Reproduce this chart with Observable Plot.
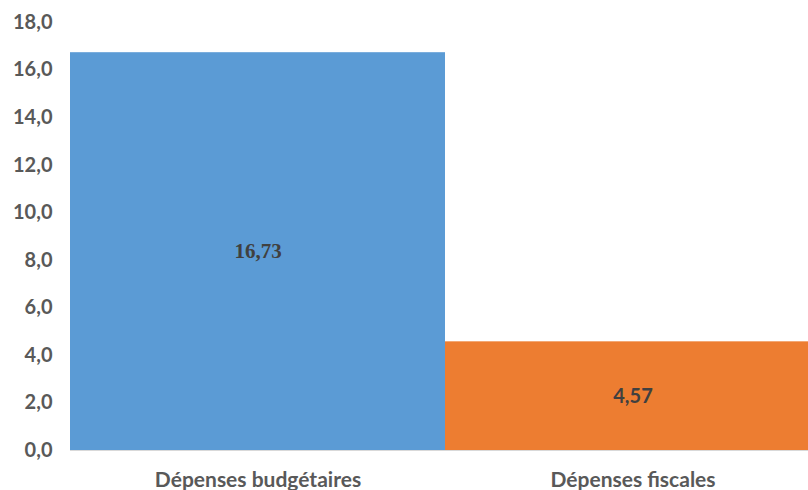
<!DOCTYPE html>
<html>
<head>
<meta charset="utf-8">
<script src="https://cdn.jsdelivr.net/npm/d3@7"></script>
<script src="https://cdn.jsdelivr.net/npm/@observablehq/plot@0.6"></script>
<style>
  html, body { margin: 0; padding: 0; background: #fff; }
  #chart svg { display: block; overflow: hidden; }
</style>
</head>
<body>
<div id="chart"></div>
<script>
const categories = ["Dépenses budgétaires", "Dépenses fiscales"];
const values = [16.73, 4.57];
const colors = ["#5B9BD5", "#ED7D31"];
const yTicks = [0, 2, 4, 6, 8, 10, 12, 14, 16, 18];

const data = categories.map((c, i) => ({category: c, value: values[i], color: colors[i]}));
const fmt = (d, n) => d.toFixed(n).replace(".", ",");

const chart = Plot.plot({
  width: 808,
  height: 490,
  marginTop: 22,
  marginBottom: 40,
  marginLeft: 70,
  marginRight: -12,
  style: {background: "#fff", overflow: "hidden"},
  x: {domain: categories, padding: 0, axis: null},
  y: {domain: [0, 18], axis: null},
  marks: [
    Plot.barY(data, {x: "category", y: "value", fill: "color"}),
    Plot.ruleY([0], {stroke: "#d9d9d9", strokeWidth: 1}),
    Plot.axisY({
      ticks: yTicks,
      tickSize: 0,
      tickPadding: 18,
      tickFormat: d => fmt(d, 1),
      fontSize: 20,
      fontWeight: "bold",
      fontFamily: "Lato, 'Open Sans', sans-serif",
      color: "#595959",
      label: null
    }),
    Plot.axisX({
      tickSize: 0,
      tickPadding: 22,
      fontSize: 21,
      fontWeight: "bold",
      fontFamily: "Lato, 'Open Sans', sans-serif",
      color: "#595959",
      label: null
    }),
    Plot.text(data.filter((d, i) => i === 0), {
      x: "category", y: d => d.value / 2, text: d => fmt(d.value, 2),
      fontSize: 21, fontWeight: "bold", fontFamily: "'Liberation Serif', serif", fill: "#404040"
    }),
    Plot.text(data.filter((d, i) => i === 1), {
      x: "category", y: d => d.value / 2, text: d => fmt(d.value, 2),
      fontSize: 20, fontWeight: "bold", fontFamily: "Lato, 'Open Sans', sans-serif", fill: "#404040"
    })
  ]
});
document.getElementById("chart").appendChild(chart);
</script>
</body>
</html>
